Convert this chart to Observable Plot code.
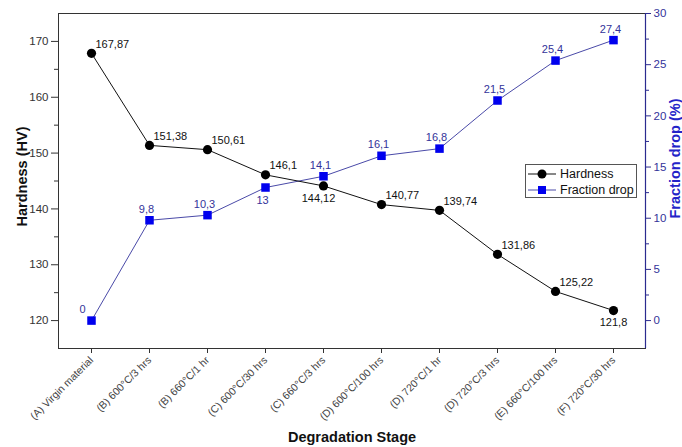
<!DOCTYPE html>
<html>
<head>
<meta charset="utf-8">
<script src="https://cdn.jsdelivr.net/npm/d3@7"></script>
<script src="https://cdn.jsdelivr.net/npm/@observablehq/plot@0.6"></script>
<style>
  html, body { margin: 0; padding: 0; background: #fff; }
  #chart { width: 682px; height: 447px; }
</style>
</head>
<body>
<div id="chart"></div>
<script>
const stages = ["(A) Virgin material","(B) 600°C/3 hrs","(B) 660°C/1 hr","(C) 600°C/30 hrs","(C) 660°C/3 hrs","(D) 600°C/100 hrs","(D) 720°C/1 hr","(D) 720°C/3 hrs","(E) 660°C/100 hrs","(F) 720°C/30 hrs"];
const hardness = [167.87, 151.38, 150.61, 146.1, 144.12, 140.77, 139.74, 131.86, 125.22, 121.8];
const fraction = [0, 9.8, 10.3, 13, 14.1, 16.1, 16.8, 21.5, 25.4, 27.4];
const hardnessTicks = [120, 130, 140, 150, 160, 170];
const hardnessMinor = [125, 135, 145, 155, 165];
const fractionTicks = [0, 5, 10, 15, 20, 25, 30];
const fractionMinor = [2.5, 7.5, 12.5, 17.5, 22.5, 27.5];

// map fraction drop (right axis) onto the hardness (left axis) coordinate
const toH = f => 120 + f * 55 / 30;
const fromH = h => (h - 120) * 30 / 55;
const fmt = v => String(v).replace(".", ",");

const rows = stages.map((s, i) => ({stage: s, hardness: hardness[i], fraction: fraction[i], fh: toH(fraction[i]), i}));

const navy = "#2b2b8f";
const blueText = "#33339a";
const font = "'Liberation Sans', Arial, sans-serif";

const W = 682, H = 447, ML = 58, MR = 37, MT = 13, MB = 99;

const svg = Plot.plot({
  width: W,
  height: H,
  marginLeft: ML,
  marginRight: MR,
  marginTop: MT,
  marginBottom: MB,
  style: {fontFamily: font, fontSize: "11px", color: "#333", background: "#fff"},
  x: {type: "point", domain: stages, padding: 0.5},
  y: {domain: [115, 175]},
  marks: [
    Plot.frame({stroke: "#333"}),
    // x axis
    Plot.axisX({tickRotate: -45, tickSize: 5, tickPadding: 5, fontSize: 10.5, color: "#444", stroke: "#333", label: null}),
    // left axis
    Plot.axisY(hardnessTicks, {anchor: "left", tickSize: 7, tickPadding: 3, fontSize: 11.5, color: "#333", label: null}),
    Plot.axisY(hardnessMinor, {anchor: "left", tickSize: 4, tickFormat: () => "", label: null, color: "#333"}),
    // right axis
    Plot.axisY(fractionTicks.map(toH), {anchor: "right", tickSize: 5, tickPadding: 3, fontSize: 11.5, color: blueText, stroke: navy, tickFormat: h => String(Math.round(fromH(h))), label: null}),
    Plot.axisY(fractionMinor.map(toH), {anchor: "right", tickSize: 3, tickFormat: () => "", label: null, stroke: navy}),
    // fraction series
    Plot.line(rows, {x: "stage", y: "fh", stroke: "#4a4aa8", strokeWidth: 1}),
    Plot.dot(rows, {x: "stage", y: "fh", symbol: "square", r: 4.8, fill: "#0000ee", stroke: "none"}),
    Plot.text(rows, {filter: d => d.i !== 3 && d.i !== 0, x: "stage", y: "fh", text: d => fmt(d.fraction), dx: -3, dy: -11, fill: blueText, fontSize: 11}),
    Plot.text(rows, {filter: d => d.i === 0, x: "stage", y: "fh", text: d => fmt(d.fraction), dx: -9, dy: -11, fill: blueText, fontSize: 11}),
    Plot.text(rows, {filter: d => d.i === 3, x: "stage", y: "fh", text: d => fmt(d.fraction), dx: -3, dy: 13, fill: blueText, fontSize: 11}),
    // hardness series
    Plot.line(rows, {x: "stage", y: "hardness", stroke: "#111", strokeWidth: 1}),
    Plot.dot(rows, {x: "stage", y: "hardness", r: 4.6, fill: "#000", stroke: "none"}),
    Plot.text(rows, {filter: d => d.i !== 4 && d.i !== 9, x: "stage", y: "hardness", text: d => fmt(d.hardness), textAnchor: "start", dx: 4, dy: -9, fill: "#111", fontSize: 11}),
    Plot.text(rows, {filter: d => d.i === 4, x: "stage", y: "hardness", text: d => fmt(d.hardness), dx: -5, dy: 13, fill: "#111", fontSize: 11}),
    Plot.text(rows, {filter: d => d.i === 9, x: "stage", y: "hardness", text: d => fmt(d.hardness), dx: 0, dy: 12, fill: "#111", fontSize: 11}),
    // titles
    Plot.text(["Degradation Stage"], {frameAnchor: "bottom", textAnchor: "middle", text: d => d, dy: 93, fontSize: 14.5, fontWeight: "bold", fill: "#111"}),
    Plot.text(["Hardness (HV)"], {frameAnchor: "left", textAnchor: "middle", text: d => d, rotate: -90, dx: -36, dy: -4.5, fontSize: 14.5, fontWeight: "bold", fill: "#111"}),
    Plot.text(["Fraction drop (%)"], {frameAnchor: "right", textAnchor: "middle", text: d => d, rotate: -90, dx: 30, dy: -22.5, fontSize: 14.5, fontWeight: "bold", fill: "#2323c8"})
  ]
});

const root = d3.select(svg);
// coloured right spine
root.append("line").attr("x1", W - MR + 0.5).attr("x2", W - MR + 0.5).attr("y1", MT).attr("y2", H - MB)
  .attr("stroke", navy).attr("stroke-width", 1.2);

// legend box
const g = root.append("g").attr("font-family", font).attr("font-size", 12.5).attr("text-anchor", "start");
g.append("rect").attr("x", 525.5).attr("y", 164.5).attr("width", 111).attr("height", 33)
  .attr("fill", "#fff").attr("stroke", "#555");
const items = [
  {label: "Hardness", y: 174, stroke: "#111", fill: "#000", shape: "circle"},
  {label: "Fraction drop", y: 190, stroke: "#4a4aa8", fill: "#0000ee", shape: "square"}
];
items.forEach(it => {
  g.append("line").attr("x1", 528).attr("x2", 556).attr("y1", it.y).attr("y2", it.y).attr("stroke", it.stroke);
  if (it.shape === "circle") {
    g.append("circle").attr("cx", 542).attr("cy", it.y).attr("r", 4.5).attr("fill", it.fill);
  } else {
    g.append("rect").attr("x", 538).attr("y", it.y - 4).attr("width", 8).attr("height", 8).attr("fill", it.fill);
  }
  g.append("text").attr("x", 560).attr("y", it.y).attr("dy", "0.35em").attr("fill", "#111").attr("text-anchor", "start").text(it.label);
});

document.getElementById("chart").appendChild(svg);
</script>
</body>
</html>
